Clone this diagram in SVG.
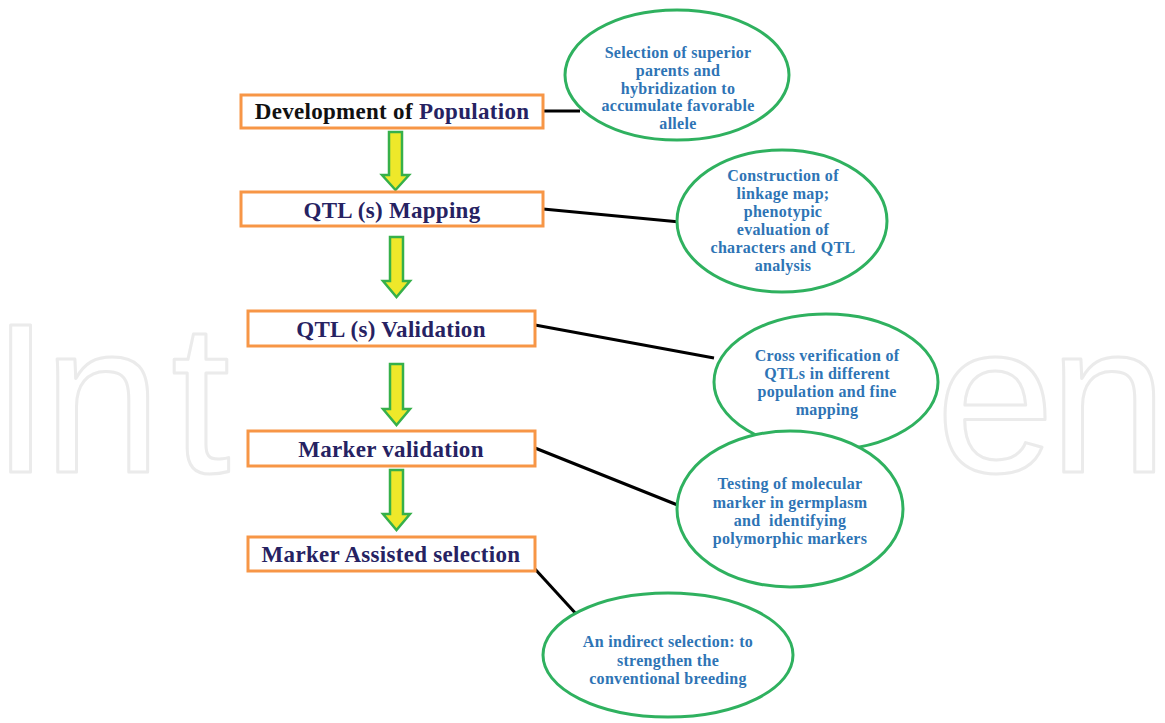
<svg xmlns="http://www.w3.org/2000/svg" width="1165" height="723" viewBox="0 0 1165 723">
<style>
.wm{font-family:"Liberation Sans",Arial,sans-serif;font-size:213px;fill:none;stroke:#ebebeb;stroke-width:3;stroke-linejoin:round}
.box{fill:#fff;stroke:#f79646;stroke-width:3}
.bt{font-family:"Liberation Serif","Times New Roman",serif;font-weight:bold;font-size:23px;fill:#262262;text-anchor:middle;letter-spacing:0.3px}
.ell{fill:#fff;stroke:#2fb15f;stroke-width:3}
.et{font-family:"Liberation Serif","Times New Roman",serif;font-weight:bold;font-size:16px;fill:#2e74b5;text-anchor:middle;letter-spacing:0.3px}
.arr{fill:#eee82a;stroke:#36b04a;stroke-width:2.5;stroke-linejoin:miter}
.ln{stroke:#000;stroke-width:3;fill:none}
</style>
<rect width="1165" height="723" fill="#fff"/>
<g id="watermark">
<text class="wm" x="-9 43 171" y="472">Int</text>
<text class="wm" x="936 1049" y="472">en</text>
</g>
<g id="connectors">
<line class="ln" x1="543" y1="111" x2="580" y2="111"/>
<line class="ln" x1="543" y1="209" x2="680" y2="222"/>
<line class="ln" x1="535" y1="325" x2="714" y2="358"/>
<line class="ln" x1="535" y1="448" x2="680" y2="506"/>
<line class="ln" x1="535" y1="569" x2="578" y2="616"/>
<path class="arr" d="M389,132 H402 V175 H409 L395.5,190 L382,175 H389 Z"/>
<path class="arr" d="M390,237 H403 V281 H410 L396.5,297 L383,281 H390 Z"/>
<path class="arr" d="M390,364 H403 V409 H410 L396.5,425 L383,409 H390 Z"/>
<path class="arr" d="M390,470 H403 V514 H410 L396.5,530 L383,514 H390 Z"/>
</g>
<g id="n1">
<rect class="box" x="241" y="95" width="302" height="33"/>
<text class="bt" x="392" y="119"><tspan fill="#111">Development of </tspan>Population</text>
</g>
<g id="n2">
<rect class="box" x="241" y="192" width="302" height="34"/>
<text class="bt" x="392" y="218">QTL (s) Mapping</text>
</g>
<g id="n3">
<rect class="box" x="248" y="311" width="287" height="35"/>
<text class="bt" x="391" y="337">QTL (s) Validation</text>
</g>
<g id="n4">
<rect class="box" x="248" y="431" width="287" height="35"/>
<text class="bt" x="391" y="457">Marker validation</text>
</g>
<g id="n5">
<rect class="box" x="248" y="537" width="287" height="34"/>
<text class="bt" x="391" y="562">Marker Assisted selection</text>
</g>
<g id="e1">
<ellipse class="ell" cx="677" cy="75" rx="112" ry="65"/>
<text class="et" x="678" y="58">Selection of superior</text>
<text class="et" x="678" y="76">parents and</text>
<text class="et" x="678" y="94">hybridization to</text>
<text class="et" x="678" y="111">accumulate favorable</text>
<text class="et" x="678" y="129">allele</text>
</g>
<g id="e2">
<ellipse class="ell" cx="782" cy="221" rx="105" ry="71"/>
<text class="et" x="783" y="181">Construction of</text>
<text class="et" x="783" y="199">linkage map;</text>
<text class="et" x="783" y="217">phenotypic</text>
<text class="et" x="783" y="235">evaluation of</text>
<text class="et" x="783" y="253">characters and QTL</text>
<text class="et" x="783" y="271">analysis</text>
</g>
<g id="e3">
<ellipse class="ell" cx="826" cy="382" rx="112" ry="68"/>
<text class="et" x="827" y="361">Cross verification of</text>
<text class="et" x="827" y="379">QTLs in different</text>
<text class="et" x="827" y="397">population and fine</text>
<text class="et" x="827" y="415">mapping</text>
</g>
<g id="e4">
<ellipse class="ell" cx="790" cy="509" rx="113" ry="78"/>
<text class="et" x="790" y="489">Testing of molecular</text>
<text class="et" x="790" y="508">marker in germplasm</text>
<text class="et" x="790" y="526" xml:space="preserve">and  identifying</text>
<text class="et" x="790" y="544">polymorphic markers</text>
</g>
<g id="e5">
<ellipse class="ell" cx="668" cy="655" rx="125" ry="62"/>
<text class="et" x="668" y="647">An indirect selection: to</text>
<text class="et" x="668" y="666">strengthen the</text>
<text class="et" x="668" y="684">conventional breeding</text>
</g>
</svg>
